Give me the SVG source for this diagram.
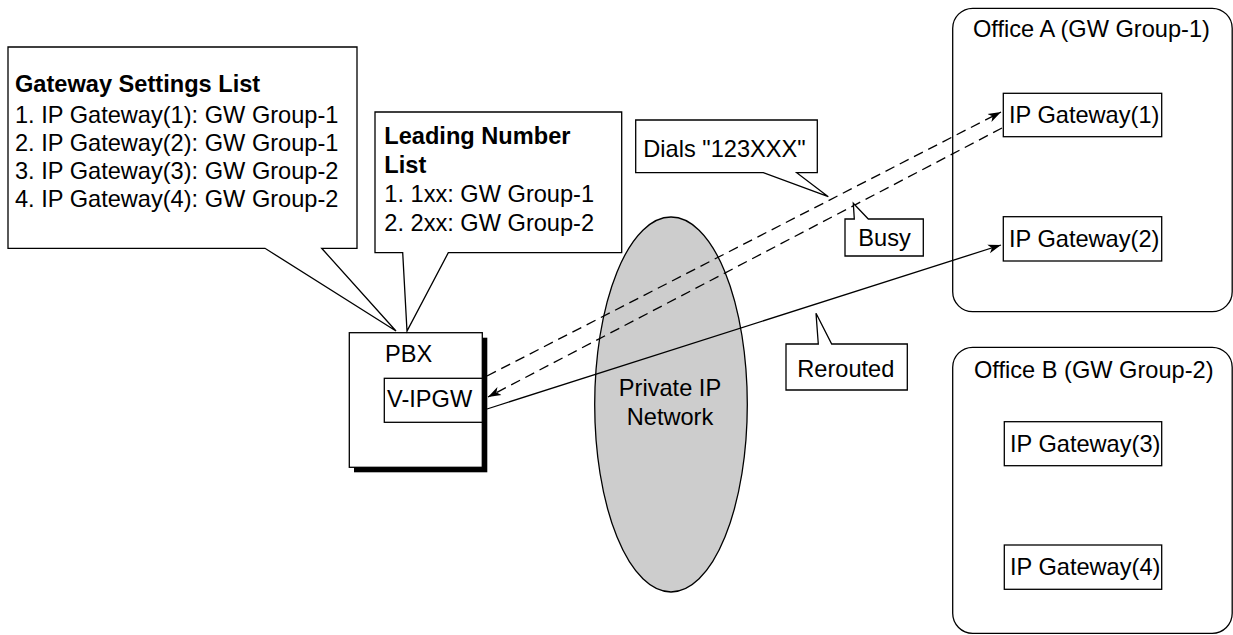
<svg xmlns="http://www.w3.org/2000/svg" width="1233" height="635" viewBox="0 0 1233 635">
<style>
text{font-family:"Liberation Sans",Arial,sans-serif;font-size:23.6px;fill:#000}
.b{font-weight:bold}
.box{fill:#fff;stroke:#000;stroke-width:1.3}
.grp{fill:none;stroke:#000;stroke-width:1.3}
.ln{fill:none;stroke:#000;stroke-width:1.3}
.dash{stroke-dasharray:10 6}
</style>
<defs>
<marker id="arr" markerUnits="userSpaceOnUse" markerWidth="14" markerHeight="10" refX="13" refY="5" orient="auto">
<path d="M0,0.5 L13,5 L0,9.5 L3.5,5 Z" fill="#000"/>
</marker>
</defs>
<rect width="1233" height="635" fill="#fff"/>

<g id="officeA">
<rect class="grp" x="952.7" y="8.3" width="279.5" height="303.4" rx="20" ry="20"/>
<text x="973" y="37">Office A (GW Group-1)</text>
</g>
<g id="officeB">
<rect class="grp" x="952.7" y="347.3" width="279.5" height="286" rx="20" ry="20"/>
<text x="974" y="378">Office B (GW Group-2)</text>
</g>

<g id="gw1"><rect class="box" x="1003.3" y="93.3" width="158.4" height="43.4"/><text x="1009" y="123">IP Gateway(1)</text></g>
<g id="gw2"><rect class="box" x="1003.3" y="216.7" width="158.4" height="44.3"/><text x="1009" y="247">IP Gateway(2)</text></g>
<g id="gw3"><rect class="box" x="1004.3" y="421.7" width="157.4" height="44"/><text x="1010" y="452">IP Gateway(3)</text></g>
<g id="gw4"><rect class="box" x="1004.3" y="545" width="157.4" height="44.3"/><text x="1010" y="575">IP Gateway(4)</text></g>

<g id="network">
<ellipse cx="671" cy="404.5" rx="76.3" ry="187.5" fill="#cdcdcd" stroke="#000" stroke-width="1.3"/>
<text x="670" y="396" text-anchor="middle">Private IP</text>
<text x="670" y="425" text-anchor="middle">Network</text>
</g>

<g id="pbx">
<rect x="354" y="337.7" width="133.3" height="134.6" fill="#000"/>
<rect class="box" x="349.3" y="332.7" width="133" height="134.6"/>
<text x="385" y="362">PBX</text>
</g>
<g id="vipgw">
<rect class="box" x="384.3" y="378.3" width="98" height="44"/>
<text x="387" y="407">V-IPGW</text>
</g>

<g id="connectors">
<line class="ln dash" x1="487" y1="376" x2="1001" y2="112" marker-end="url(#arr)"/>
<line class="ln dash" x1="1002" y1="128" x2="488" y2="397" marker-end="url(#arr)"/>
<line class="ln" x1="487" y1="409" x2="1001" y2="245" marker-end="url(#arr)"/>
</g>

<g id="gatewaySettings">
<path class="box" d="M8,47 H357 V248.3 H321.7 L396,331 L265,248.3 H8 Z"/>
<text class="b" x="15" y="92">Gateway Settings List</text>
<text x="15" y="123">1. IP Gateway(1): GW Group-1</text>
<text x="15" y="151">2. IP Gateway(2): GW Group-1</text>
<text x="15" y="179">3. IP Gateway(3): GW Group-2</text>
<text x="15" y="207">4. IP Gateway(4): GW Group-2</text>
</g>

<g id="leadingNumber">
<path class="box" d="M375,112 H621.7 V252.7 H448.3 L407,331 L402.7,252.7 H375 Z"/>
<text class="b" x="384.3" y="144">Leading Number</text>
<text class="b" x="384.3" y="173">List</text>
<text x="384.3" y="202">1. 1xx: GW Group-1</text>
<text x="384.3" y="231">2. 2xx: GW Group-2</text>
</g>

<g id="dials">
<path class="box" d="M635.7,120 H817.3 V172.7 H796.7 L828.3,196.7 L763.3,172.7 H635.7 Z"/>
<text x="643.3" y="157">Dials "123XXX"</text>
</g>

<g id="busy">
<path class="box" d="M845,219 H854.3 L853.3,203.3 L868.3,219 H923.3 V256 H845 Z"/>
<text x="858.3" y="246">Busy</text>
</g>

<g id="rerouted">
<path class="box" d="M786,344 H818.3 L816,313.3 L831.7,344 H907.3 V390 H786 Z"/>
<text x="797.3" y="377">Rerouted</text>
</g>
</svg>
